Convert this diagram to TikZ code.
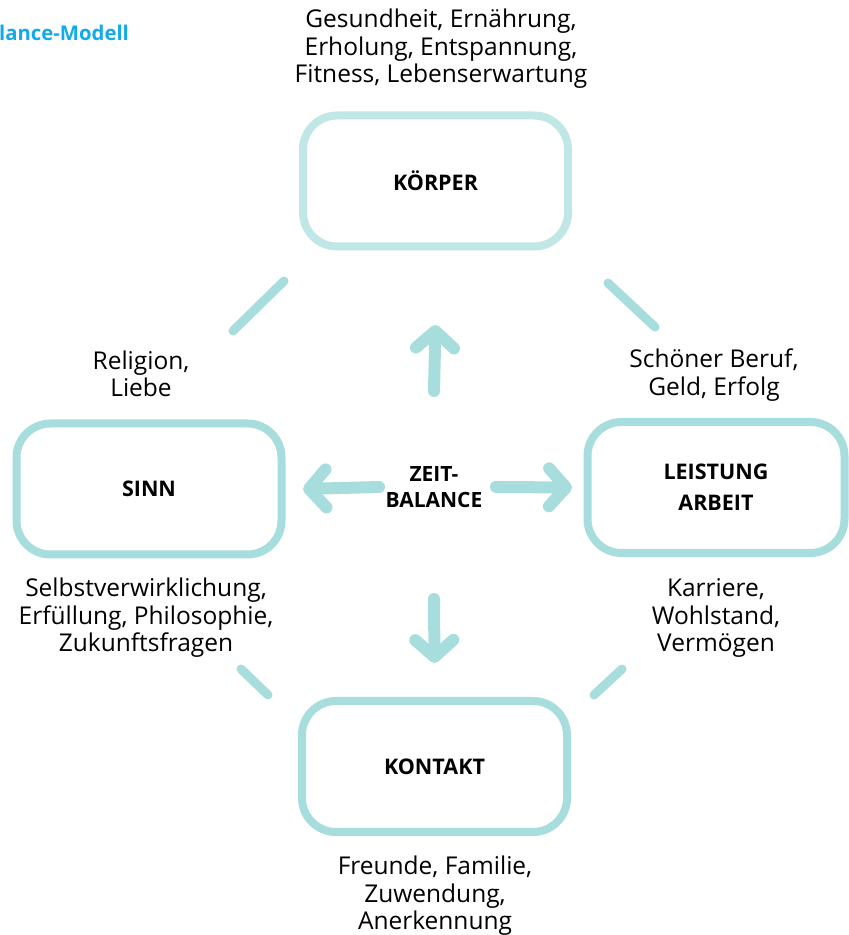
\documentclass[tikz,border=0pt]{standalone}
\usepackage{fontspec}
\setmainfont{Open Sans}
\usetikzlibrary{arrows.meta}
\definecolor{baltuerkis}{RGB}{168,221,222}
\definecolor{balhell}{RGB}{192,230,230}
\definecolor{balblau}{RGB}{18,170,232}
\begin{document}
\begin{tikzpicture}[x=1pt,y=1pt,
  % the four areas of life: rounded boxes, bold caps inside
  bereich/.style={draw=baltuerkis, line width=8pt, rounded corners=34pt, fill=white,
                  inner sep=0pt, minimum width=265pt, minimum height=131pt, align=center,
                  font=\fontsize{21.5}{31}\selectfont\bfseries},
  % what belongs to an area: plain text next to its box
  inhalt/.style={align=center, inner sep=0pt, font=\fontsize{24.5}{27.5}\selectfont},
  % arrows out of the centre, and the short strokes between the areas
  pfeil/.style={draw=baltuerkis, line width=12pt, line cap=round,
                -{Straight Barb[length=17pt, width=38pt, round]}},
  strich/.style={draw=baltuerkis, line width=9pt, line cap=round},
  ]
  \useasboundingbox (0,0) rectangle (849,935);
  % ---- title (cut at the left edge) ------------------------------------------------
  \node[anchor=west, inner sep=0pt, text=balblau, font=\fontsize{20.3}{22}\selectfont\bfseries]
    (titel) at (-1,902) {lance-Modell};
  % ---- boxes ---------------------------------------------------------------------
  \node[bereich, draw=balhell] (koerper)  at (435.5,754) {KÖRPER};
  \node[bereich]               (sinn)     at (149,446)   {SINN};
  \node[bereich, minimum width=257pt] (leistung) at (716,447.5) {LEISTUNG\\ARBEIT};
  \node[bereich]               (kontakt)  at (434.5,168.5) {KONTAKT};
  \node[align=center, inner sep=0pt, font=\fontsize{21}{26}\selectfont\bfseries]
    (zeit) at (434,448) {ZEIT-\\BALANCE};
  % ---- texts round the boxes -------------------------------------------------------
  \node[inhalt] (tkoerper)  at (441,886) {Gesundheit, Ernährung,\\Erholung, Entspannung,\\Fitness, Lebenserwartung};
  \node[inhalt] (treligion) at (141,561) {Religion,\\Liebe};
  \node[inhalt] (tberuf)    at (714,560) {Schöner Beruf,\\Geld, Erfolg};
  \node[inhalt] (tsinn)     at (146,317) {Selbstverwirklichung,\\Erfüllung, Philosophie,\\Zukunftsfragen};
  \node[inhalt] (tleistung) at (716,317) {Karriere,\\Wohlstand,\\Vermögen};
  \node[inhalt] (tkontakt)  at (435,39)  {Freunde, Familie,\\Zuwendung,\\Anerkennung};
  % ---- arrows from the centre ------------------------------------------------------
  \draw[pfeil] ([yshift=96pt]zeit.center)   -- ([yshift=-74.5pt]koerper.south);
  \draw[pfeil] ([yshift=-112pt]zeit.center) -- ([yshift=34pt]kontakt.north);
  \draw[pfeil] ([xshift=-55pt]zeit.center)  -- ([xshift=17.5pt]sinn.east);
  \draw[pfeil] ([xshift=62pt]zeit.center)   -- ([xshift=-11.5pt]leistung.west);
  % ---- strokes between neighbouring areas -----------------------------------------
  \draw[strich] ([shift={(-52.5,88.5)}]sinn.north east)    -- ([shift={(-15,-30.5)}]koerper.south west);
  \draw[strich] ([shift={(36,-32.5)}]koerper.south east)   -- ([shift={(71.5,91)}]leistung.north west);
  \draw[strich] ([shift={(-44.5,-110.5)}]sinn.south east)  -- ([shift={(-30,2)}]kontakt.north west);
  \draw[strich] ([shift={(23,2)}]kontakt.north east)       -- ([shift={(38.5,-112)}]leistung.south west);
\end{tikzpicture}
\end{document}
